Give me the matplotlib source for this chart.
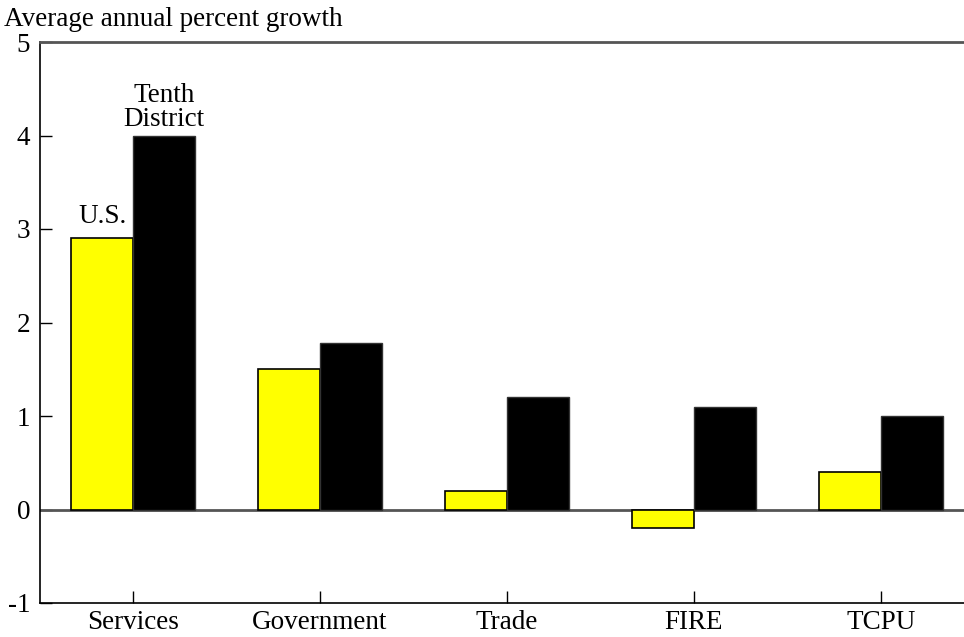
import matplotlib
matplotlib.use("Agg")
import matplotlib.pyplot as plt
import numpy as np

categories = ["Services", "Government", "Trade", "FIRE", "TCPU"]
us_growth = [2.9, 1.5, 0.2, -0.2, 0.4]
district_growth = [4.0, 1.78, 1.2, 1.1, 1.0]
yticks = [-1, 0, 1, 2, 3, 4, 5]

plt.rcParams['font.family'] = ['Liberation Serif', 'DejaVu Serif']

fig = plt.figure(figsize=(9.64, 6.37), dpi=100)
ax = fig.add_axes([40/964, 1-603/637, 1-40/964, (603-42)/637])

x = np.arange(len(categories))
w = 0.33
ax.bar(x - w/2, us_growth, width=w, color="#ffff00", edgecolor="black", linewidth=1.2, zorder=3)
ax.bar(x + w/2, district_growth, width=w, color="black", edgecolor="#333333", linewidth=1.0, zorder=3)
ax.axhline(0, color="#555555", linewidth=2, zorder=2)

ax.set_xlim(-0.497, -0.497 + 924/187)
ax.set_ylim(-1, 5)
ax.set_yticks(yticks)
ax.set_yticklabels([str(t) for t in yticks])
ax.set_xticks(x)
ax.set_xticklabels(categories)
ax.tick_params(axis="both", direction="in", length=8.5, width=1, labelsize=19.5, colors="black")
ax.tick_params(axis="y", pad=7)
ax.tick_params(axis="x", pad=5)

ax.spines["right"].set_visible(False)
ax.spines["top"].set_color("#555555")
ax.spines["top"].set_linewidth(2)
ax.spines["left"].set_linewidth(1.2)
ax.spines["bottom"].set_linewidth(1.2)

ax.text(x[0] - w/2, us_growth[0] + 0.1, "U.S.", ha="center", va="bottom", fontsize=19.5)
ax.text(x[0] + w/2, district_growth[0] + 0.04, "Tenth\nDistrict", ha="center", va="bottom",
        fontsize=19.5, linespacing=0.95)

fig.text(4/964, 1-20/637, "Average annual percent growth", ha="left", va="center", fontsize=19.5)

fig.savefig("out.png", dpi=100)
